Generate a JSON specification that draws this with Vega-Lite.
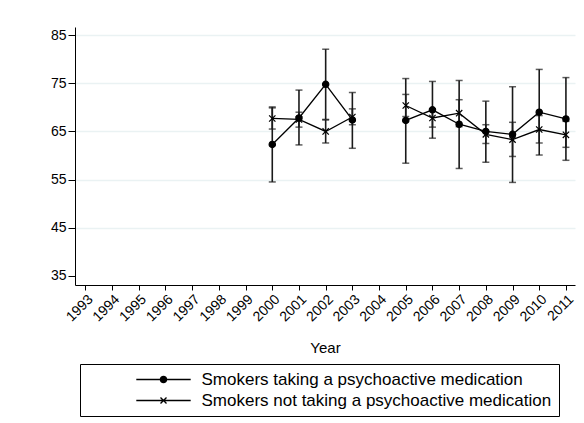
{
  "$schema": "https://vega.github.io/schema/vega-lite/v6.json",
  "autosize": "none",
  "width": 500,
  "height": 258,
  "padding": {"left": 75, "top": 27, "right": 9, "bottom": 138},
  "background": "white",
  "config": {
    "view": {"stroke": null},
    "font": "Liberation Sans",
    "axis": {"labelFont": "Liberation Sans", "titleFont": "Liberation Sans", "labelColor": "black", "titleColor": "black", "domainColor": "black", "tickColor": "black"}
  },
  "data": {
    "values": [
      {"year": 2000, "series": "Smokers taking a psychoactive medication", "mean": 62.3, "lo": 54.5, "hi": 70.1},
      {"year": 2001, "series": "Smokers taking a psychoactive medication", "mean": 67.8, "lo": 62.2, "hi": 73.6},
      {"year": 2002, "series": "Smokers taking a psychoactive medication", "mean": 74.8, "lo": 67.5, "hi": 82.1},
      {"year": 2003, "series": "Smokers taking a psychoactive medication", "mean": 67.4, "lo": 61.5, "hi": 73.1},
      {"year": 2004, "series": "Smokers taking a psychoactive medication", "mean": null, "lo": null, "hi": null},
      {"year": 2005, "series": "Smokers taking a psychoactive medication", "mean": 67.3, "lo": 58.4, "hi": 76.0},
      {"year": 2006, "series": "Smokers taking a psychoactive medication", "mean": 69.5, "lo": 63.6, "hi": 75.4},
      {"year": 2007, "series": "Smokers taking a psychoactive medication", "mean": 66.5, "lo": 57.3, "hi": 75.6},
      {"year": 2008, "series": "Smokers taking a psychoactive medication", "mean": 65.0, "lo": 58.6, "hi": 71.3},
      {"year": 2009, "series": "Smokers taking a psychoactive medication", "mean": 64.4, "lo": 54.4, "hi": 74.3},
      {"year": 2010, "series": "Smokers taking a psychoactive medication", "mean": 69.0, "lo": 60.1, "hi": 77.9},
      {"year": 2011, "series": "Smokers taking a psychoactive medication", "mean": 67.6, "lo": 59.0, "hi": 76.2},
      {"year": 2000, "series": "Smokers not taking a psychoactive medication", "mean": 67.7, "lo": 65.5, "hi": 69.9},
      {"year": 2001, "series": "Smokers not taking a psychoactive medication", "mean": 67.5, "lo": 65.9, "hi": 69.0},
      {"year": 2002, "series": "Smokers not taking a psychoactive medication", "mean": 65.0, "lo": 62.6, "hi": 67.4},
      {"year": 2003, "series": "Smokers not taking a psychoactive medication", "mean": 68.0, "lo": 66.4, "hi": 69.7},
      {"year": 2004, "series": "Smokers not taking a psychoactive medication", "mean": null, "lo": null, "hi": null},
      {"year": 2005, "series": "Smokers not taking a psychoactive medication", "mean": 70.4, "lo": 68.1, "hi": 72.7},
      {"year": 2006, "series": "Smokers not taking a psychoactive medication", "mean": 67.8, "lo": 65.9, "hi": 69.7},
      {"year": 2007, "series": "Smokers not taking a psychoactive medication", "mean": 68.8, "lo": 66.0, "hi": 71.6},
      {"year": 2008, "series": "Smokers not taking a psychoactive medication", "mean": 64.4, "lo": 62.5, "hi": 66.4},
      {"year": 2009, "series": "Smokers not taking a psychoactive medication", "mean": 63.3, "lo": 59.8, "hi": 66.9},
      {"year": 2010, "series": "Smokers not taking a psychoactive medication", "mean": 65.4, "lo": 62.6, "hi": 68.3},
      {"year": 2011, "series": "Smokers not taking a psychoactive medication", "mean": 64.3, "lo": 61.7, "hi": 67.1}
    ]
  },
  "encoding": {
    "x": {
      "field": "year", "type": "quantitative",
      "scale": {"domain": [1992.61, 2011.34], "nice": false, "zero": false},
      "axis": {
        "values": [1993,1994,1995,1996,1997,1998,1999,2000,2001,2002,2003,2004,2005,2006,2007,2008,2009,2010,2011],
        "format": "d", "labelAngle": -45, "labelFontSize": 14, "tickSize": 5, "labelPadding": 2,
        "grid": false, "title": "Year", "titleFontSize": 15, "titleFontWeight": "normal", "titlePadding": 17,
        "labelOverlap": false, "labelFlush": false
      }
    }
  },
  "layer": [
    {
      "mark": {"type": "rule", "color": "#1a1a1a", "strokeWidth": 1.6},
      "encoding": {
        "y": {
          "field": "lo", "type": "quantitative",
          "scale": {"domain": [33.07, 86.72], "nice": false, "zero": false},
          "axis": {
            "values": [35, 45, 55, 65, 75, 85], "labelFontSize": 14, "tickSize": 7, "labelPadding": 2,
            "grid": true, "gridWidth": 1.5,
            "gridColor": {"condition": {"test": "datum.value == 35", "value": "transparent"}, "value": "#eaf2f3"},
            "title": null
          }
        },
        "y2": {"field": "hi"}
      }
    },
    {
      "mark": {"type": "tick", "orient": "horizontal", "color": "#1a1a1a", "size": 7, "thickness": 1.5},
      "encoding": {"y": {"field": "lo", "type": "quantitative"}}
    },
    {
      "mark": {"type": "tick", "orient": "horizontal", "color": "#1a1a1a", "size": 7, "thickness": 1.5},
      "encoding": {"y": {"field": "hi", "type": "quantitative"}}
    },
    {
      "mark": {"type": "line", "color": "black", "strokeWidth": 1.3, "invalid": "break-paths-show-domains"},
      "encoding": {
        "y": {"field": "mean", "type": "quantitative"},
        "detail": {"field": "series"}
      }
    },
    {
      "mark": {"type": "point", "filled": true, "fill": "black", "stroke": "black", "strokeWidth": 1.2, "opacity": 1, "size": 40},
      "encoding": {
        "y": {"field": "mean", "type": "quantitative"},
        "shape": {
          "field": "series", "type": "nominal",
          "scale": {
            "domain": ["Smokers taking a psychoactive medication", "Smokers not taking a psychoactive medication"],
            "range": ["circle", "M-1,-1L1,1M-1,1L1,-1"]
          },
          "legend": null
        }
      }
    },
    {
      "mark": {"type": "point", "filled": true, "color": "black", "opacity": 0},
      "encoding": {
        "y": {"field": "mean", "type": "quantitative"},
        "shape": {
          "field": "series", "type": "nominal",
          "scale": {
            "domain": ["Smokers taking a psychoactive medication", "Smokers not taking a psychoactive medication"],
            "range": [
              "M-6.8,-0.19H6.8V0.19H-6.8ZM-0.95,0A0.95,0.95,0,1,1,0.95,0A0.95,0.95,0,1,1,-0.95,0Z",
              "M-6.8,-0.19H6.8V0.19H-6.8ZM-0.63,-0.87L0.87,0.63L0.63,0.87L-0.87,-0.63ZM-0.87,0.63L0.63,-0.87L0.87,-0.63L-0.63,0.87Z"
            ]
          },
          "legend": {
            "orient": "none", "legendX": 5, "legendY": 337, "direction": "vertical", "title": null,
            "padding": 7, "strokeColor": "black", "fillColor": "white",
            "labelFont": "Liberation Sans", "labelFontSize": 17, "labelColor": "black", "labelLimit": 600,
            "symbolSize": 64, "symbolOffset": 68, "labelOffset": 29.5, "rowPadding": 3,
            "symbolStrokeWidth": 0, "symbolFillColor": "black", "symbolStrokeColor": "black", "symbolOpacity": 1
          }
        }
      }
    }
  ],
  "resolve": {"scale": {"shape": "independent"}, "legend": {"shape": "independent"}}
}
